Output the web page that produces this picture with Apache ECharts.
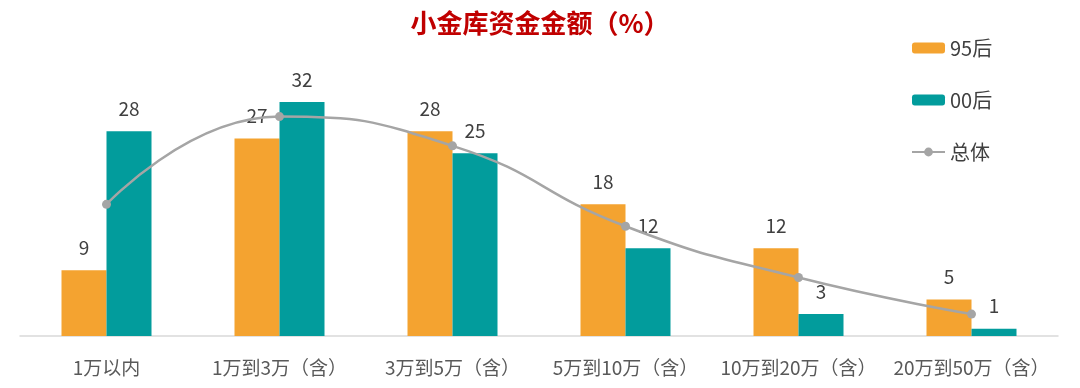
<!DOCTYPE html>
<html><head><meta charset="utf-8">
<script src="https://cdn.jsdelivr.net/npm/echarts@6/dist/echarts.min.js"></script>
<style>html,body{margin:0;padding:0;background:#fff}#c{width:1080px;height:388px}</style>
</head><body><div id="c"></div>
<script>
var categories = ['1万以内','1万到3万（含）','3万到5万（含）','5万到10万（含）','10万到20万（含）','20万到50万（含）'];
var s95 = [9, 27, 28, 18, 12, 5];
var s00 = [28, 32, 25, 12, 3, 1];
var total = [18, 30, 26, 15, 8, 3];
var FONT = '"Noto Sans CJK SC", "Noto Sans", sans-serif';
var chart = echarts.init(document.getElementById('c'));
chart.setOption({
  animation: false,
  textStyle: {fontFamily: FONT},
  title: {text: '小金库资金金额（%）', left: 'center', top: 5,
    textStyle: {color: '#C00000', fontSize: 26, fontWeight: 'bold', fontFamily: FONT}},
  legend: {orient: 'vertical', left: 911, top: 38, padding: 0, itemWidth: 33, itemHeight: 11, itemGap: 32,
    textStyle: {color: '#404040', fontSize: 20, fontFamily: FONT},
    data: ['95后','00后','总体']},
  grid: {left: 20, right: 22, top: 80, bottom: 52},
  xAxis: {type: 'category', data: categories,
    axisLine: {lineStyle: {color: '#d9d9d9', width: 1.5}}, axisTick: {show: false},
    axisLabel: {color: '#595959', fontSize: 19, margin: 22, interval: 0, fontFamily: FONT}},
  yAxis: {type: 'value', min: 0, max: 35, show: false, splitLine: {show: false}},
  series: [
    {name: '95后', type: 'bar', data: s95, barWidth: 45, barGap: '0%',
      itemStyle: {color: '#F4A330'},
      label: {show: true, position: 'top', distance: 13, color: '#404040', fontSize: 19, fontFamily: FONT}},
    {name: '00后', type: 'bar', data: s00, barWidth: 45,
      itemStyle: {color: '#029C9C'},
      label: {show: true, position: 'top', distance: 13, color: '#404040', fontSize: 19, fontFamily: FONT}},
    {name: '总体', type: 'line', data: total, smooth: true, symbol: 'circle', symbolSize: 9,
      lineStyle: {color: '#A5A5A5', width: 2.5}, itemStyle: {color: '#A5A5A5'}, z: 5}
  ]
});
</script></body></html>
